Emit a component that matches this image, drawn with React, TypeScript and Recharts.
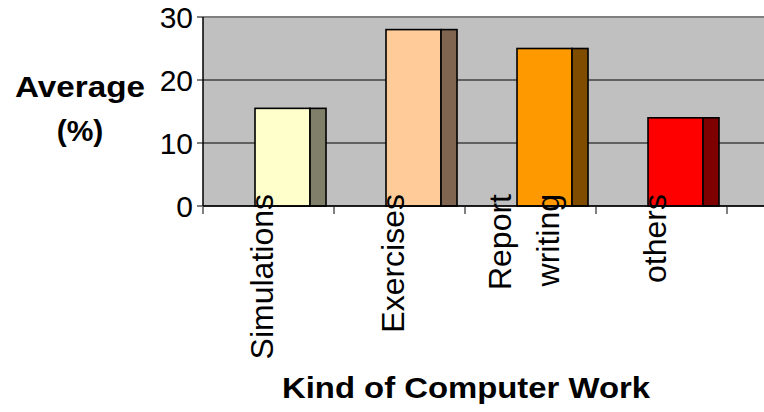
import { BarChart, Bar, XAxis, YAxis, CartesianGrid, ReferenceLine, Label } from 'recharts';

const categories = ['Simulations', 'Exercises', 'Report writing', 'others'];
const averages = [15.5, 28, 25, 14];
const yTicks = [0, 10, 20, 30];
const frontColors = ['#FFFFCC', '#FFCC99', '#FF9900', '#FF0000'];
const sideColors = ['#80806A', '#806650', '#7F4C00', '#7F0000'];

const data = categories.map((name, i) => ({ name, value: averages[i] }));

const font = '"Liberation Sans", Arial, sans-serif';

function BoxBar(props: any) {
  const { x, y, width, height, index } = props;
  if (height == null || height <= 0) return null;
  const left = x + width * 0.31;
  const front = width * 0.775;
  return (
    <g>
      <rect x={left} y={y} width={front} height={height} fill={frontColors[index]} stroke="#000" strokeWidth={1.6} />
      <rect x={left + front} y={y} width={width - front} height={height} fill={sideColors[index]} stroke="#000" strokeWidth={1.6} />
    </g>
  );
}

function CategoryTick(props: any) {
  const { x, y, payload, index } = props;
  const half = payload?.offset ?? 65.5;
  const lines = String(payload.value).split(' ');
  const gap = 48;
  const cx = x - 7;
  return (
    <g>
      <line x1={x - half} y1={y - 7} x2={x - half} y2={y} stroke="#000" strokeWidth={1} />
      {index === categories.length - 1 && (
        <line x1={x + half} y1={y - 7} x2={x + half} y2={y} stroke="#000" strokeWidth={1} />
      )}
      {lines.map((ln, i) => {
        const lx = cx + (i - (lines.length - 1) / 2) * gap;
        const ly = y - 20;
        return (
          <text
            key={ln}
            x={lx}
            y={ly}
            transform={`rotate(-90 ${lx} ${ly})`}
            textAnchor="end"
            dominantBaseline="central"
            fontSize={32}
            fontFamily={font}
            fill="#000"
          >
            {ln}
          </text>
        );
      })}
    </g>
  );
}

function YTitle({ viewBox }: any) {
  const cx = viewBox.x + 80;
  return (
    <g fontFamily={font} fontWeight="bold" fontSize={30} fill="#000" textAnchor="middle">
      <text x={cx} y={97} textLength={130} lengthAdjust="spacingAndGlyphs">Average</text>
      <text x={cx} y={141}>(%)</text>
    </g>
  );
}

function XTitle() {
  return (
    <text x={466} y={398} fontFamily={font} fontWeight="bold" fontSize={29} fill="#000" textAnchor="middle" textLength={368} lengthAdjust="spacingAndGlyphs">
      Kind of Computer Work
    </text>
  );
}

export default function App() {
  return (
    <div style={{ position: 'absolute', left: 0, top: 0, background: '#fff' }}>
      <BarChart width={764} height={412} data={data} margin={{ top: 17, right: 0, left: 0, bottom: 0 }} barSize={71}>
        <CartesianGrid vertical={false} fill="#C0C0C0" stroke="#000" strokeWidth={1} />
        <ReferenceLine y={30} stroke="#808080" strokeWidth={2} />
        <XAxis
          dataKey="name"
          height={206}
          padding={{ left: 0, right: 37 }}
          axisLine={{ stroke: '#000', strokeWidth: 1.5 }}
          tickLine={false}
          tick={<CategoryTick />}
          interval={0}
        >
          <Label content={<XTitle />} />
        </XAxis>
        <YAxis
          width={203}
          domain={[0, 30]}
          ticks={yTicks}
          interval={0}
          axisLine={{ stroke: '#000', strokeWidth: 1.5 }}
          tickLine={{ stroke: '#000' }}
          tickSize={6}
          tickMargin={4}
          tick={{ fontSize: 30, fill: '#000', fontFamily: font }}
        >
          <Label content={<YTitle />} />
        </YAxis>
        <Bar dataKey="value" shape={<BoxBar />} isAnimationActive={false} />
      </BarChart>
    </div>
  );
}
